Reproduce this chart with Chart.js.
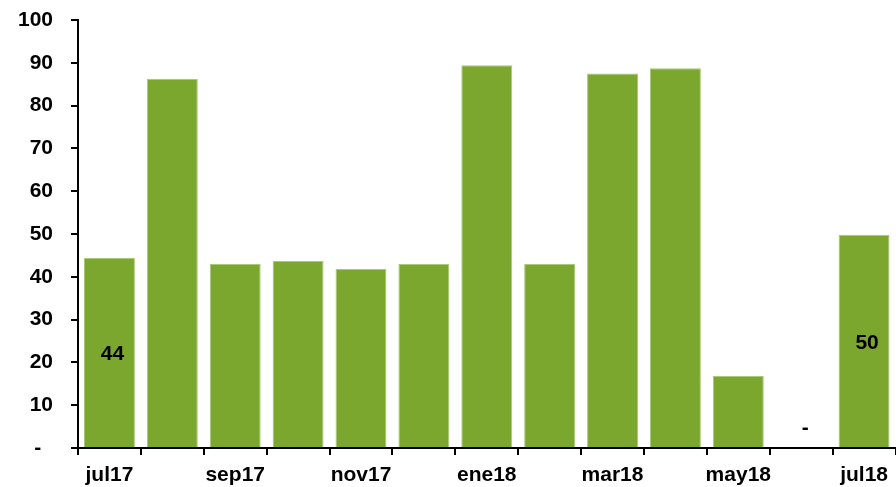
<html lang="es">
<head>
    <meta charset="UTF-8">
    <title>Serie mensual</title>
    <script src="https://cdn.jsdelivr.net/npm/chart.js@4.4.0/dist/chart.umd.min.js"></script>
    <style>
        body { margin: 0; background: #fff; }
        #wrap { width: 896px; height: 487px; }
    </style>
</head>
<body>
    <div id="wrap"><canvas id="myChart"></canvas></div>
    <script>
        const months = ['jul17', 'ago17', 'sep17', 'oct17', 'nov17', 'dic17', 'ene18',
                        'feb18', 'mar18', 'abr18', 'may18', 'jun18', 'jul18'];
        const values = [44.4, 86.3, 43.0, 43.7, 41.8, 43.0, 89.4, 43.0, 87.5, 88.7, 16.8, 0, 49.8];
        // only these months carry a value label
        const labelled = ['jul17', 'jun18', 'jul18'];
        const yTicks = [0, 10, 20, 30, 40, 50, 60, 70, 80, 90, 100];

        const fontBold = { family: 'Liberation Sans, Arial, sans-serif', size: 21, weight: 'bold' };

        const valueLabels = {
            id: 'value_labels',
            afterDatasetsDraw: (chart) => {
                const ctx = chart.ctx;
                const meta = chart.getDatasetMeta(0);
                ctx.save();
                ctx.font = 'bold 21px "Liberation Sans", Arial, sans-serif';
                ctx.fillStyle = '#000';
                ctx.textAlign = 'center';
                ctx.textBaseline = 'middle';
                meta.data.forEach((bar, i) => {
                    if (!labelled.includes(months[i])) return;
                    const v = values[i];
                    if (v === 0) {
                        ctx.fillText('-', bar.x + 4, bar.base - 20);
                    } else {
                        ctx.fillText(Math.round(v), bar.x + 3, (bar.y + bar.base) / 2 + 2);
                    }
                });
                ctx.restore();
            }
        };

        new Chart(document.getElementById('myChart'), {
            type: 'bar',
            data: {
                labels: months,
                datasets: [{
                    data: values,
                    backgroundColor: '#7ba72e',
                    borderColor: '#a9c878',
                    borderWidth: { top: 1, left: 1, right: 1, bottom: 0 },
                    barPercentage: 0.81,
                    categoryPercentage: 1
                }]
            },
            plugins: [valueLabels],
            options: {
                responsive: true,
                maintainAspectRatio: false,
                animation: false,
                layout: { padding: { top: 20, right: 0, left: 0, bottom: 0 } },
                plugins: { legend: { display: false }, tooltip: { enabled: false } },
                scales: {
                    x: {
                        afterFit: (scale) => { scale.height = 39; },
                        border: { display: true, color: '#000', width: 2 },
                        grid: { display: true, offset: true, drawOnChartArea: false, drawTicks: true,
                                tickLength: 7, color: '#000', lineWidth: 2 },
                        ticks: {
                            autoSkip: false,
                            maxRotation: 0,
                            padding: 8,
                            color: '#000',
                            font: fontBold,
                            callback: function (value, index) {
                                return index % 2 === 0 ? months[index] : '';
                            }
                        }
                    },
                    y: {
                        min: 0,
                        max: 100,
                        afterFit: (scale) => {
                            scale.width = 78;
                            scale.paddingTop = 0;
                            scale.paddingBottom = 0;
                        },
                        afterBuildTicks: (scale) => { scale.ticks = yTicks.map(v => ({ value: v })); },
                        border: { display: true, color: '#000', width: 2 },
                        grid: { display: true, drawOnChartArea: false, drawTicks: true,
                                tickLength: 7, color: '#000', lineWidth: 2 },
                        ticks: {
                            padding: 18,
                            color: '#000',
                            font: fontBold,
                            callback: function (value) {
                                return value === 0 ? '-  ' : value;
                            }
                        }
                    }
                }
            }
        });
    </script>
</body>
</html>
